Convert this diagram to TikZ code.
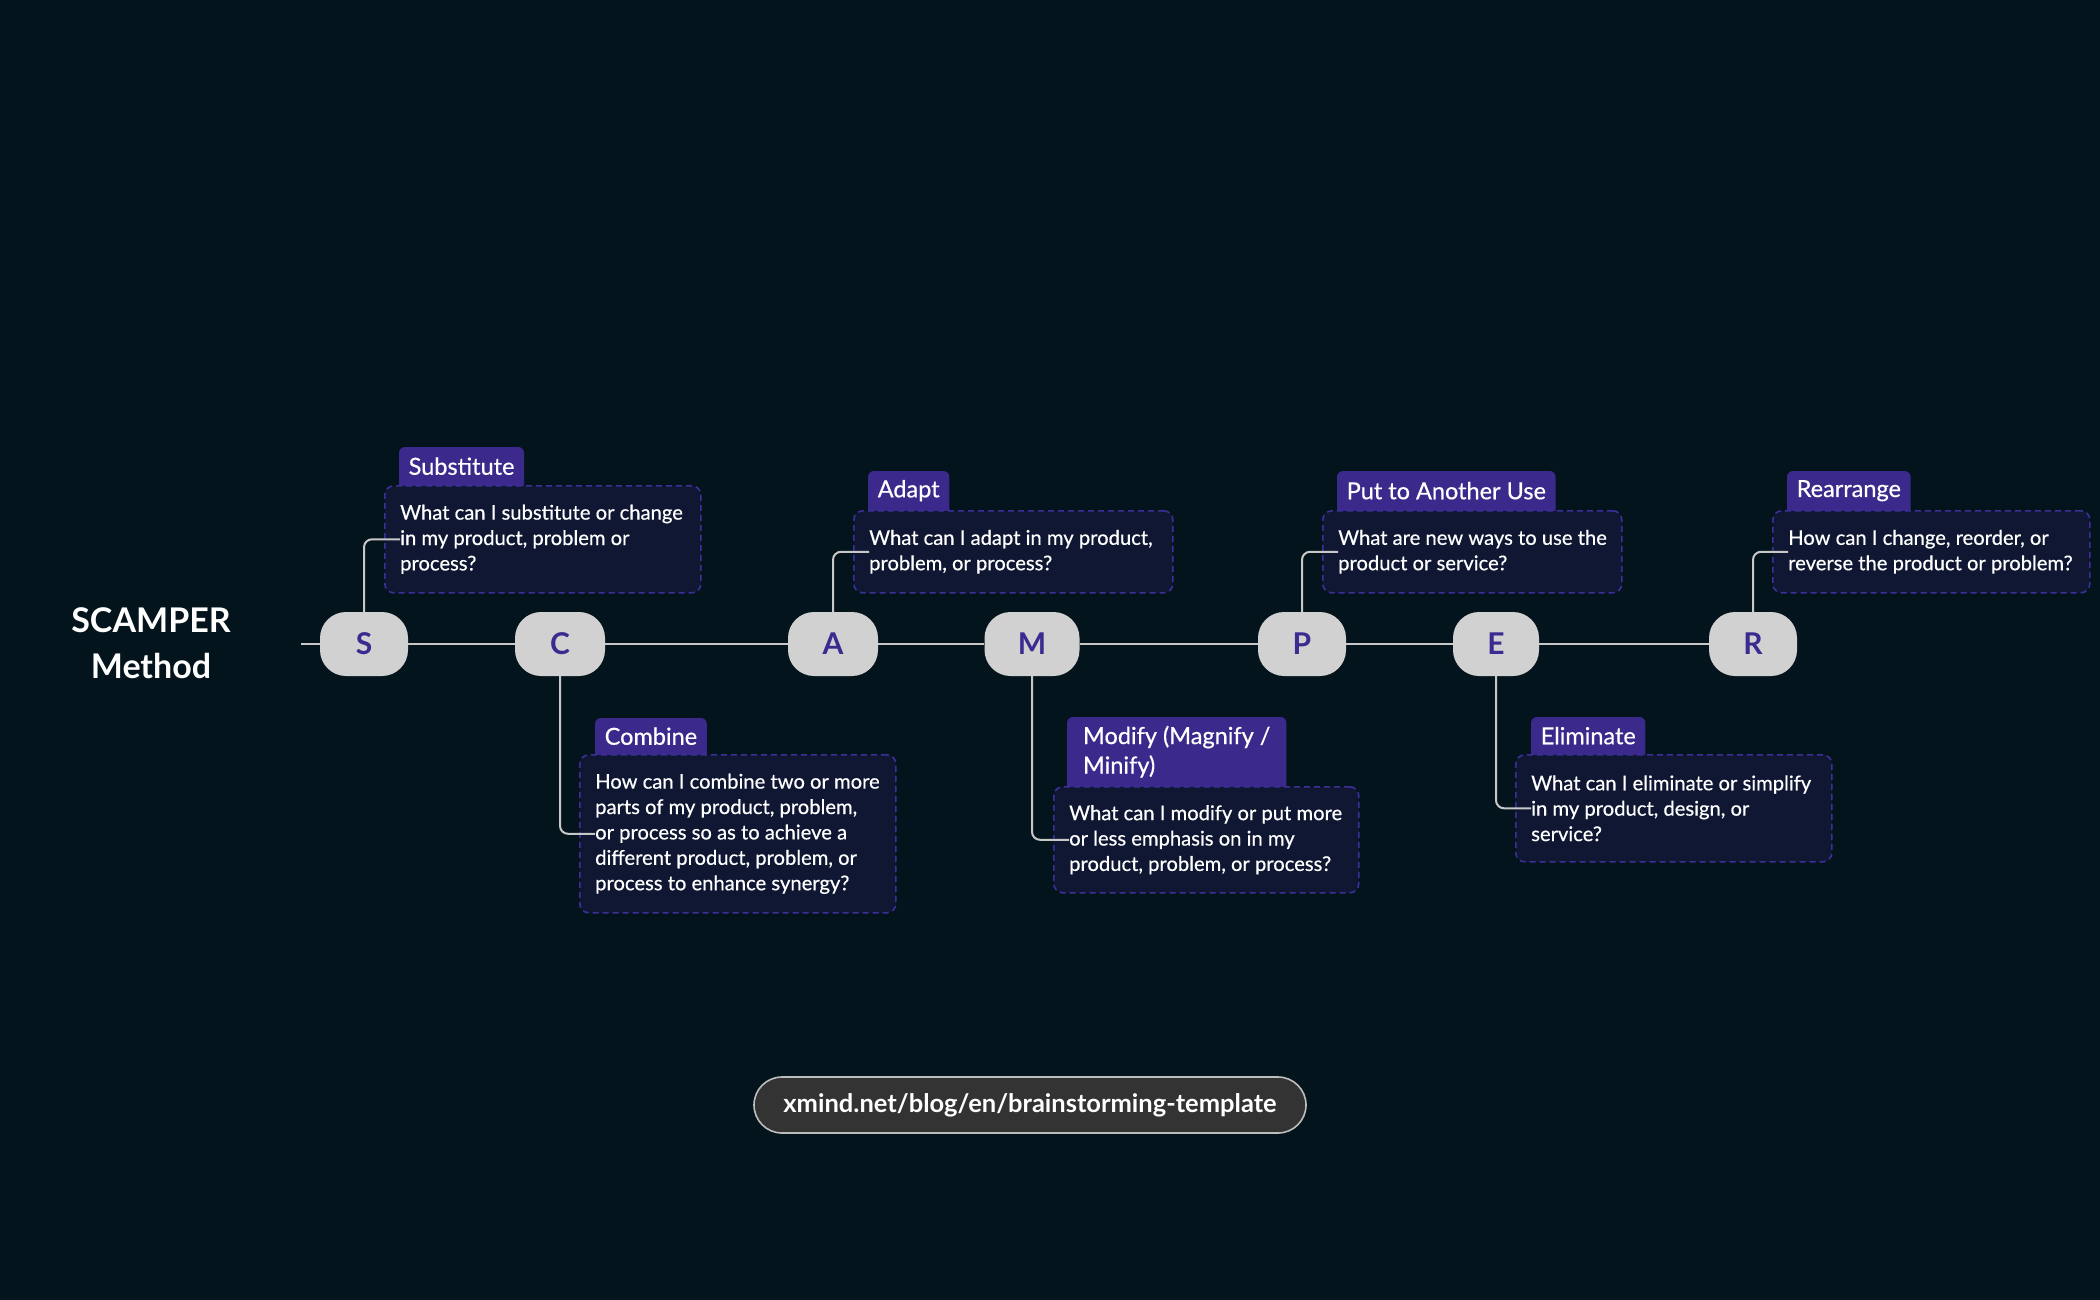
\documentclass[tikz,border=0pt]{standalone}
\usepackage{fontspec}
\setmainfont{Lato}
\newfontfamily\medfont{Lato}[FakeBold=0.5]
\definecolor{bgc}{HTML}{04141C}
\definecolor{pillc}{HTML}{D1D1D1}
\definecolor{letc}{HTML}{3B2A8F}
\definecolor{tabc}{HTML}{3B2A8C}
\definecolor{boxc}{HTML}{101733}
\definecolor{dashc}{HTML}{3D2F99}
\definecolor{linec}{HTML}{C8C8C8}
\definecolor{linkc}{HTML}{333333}
\definecolor{linkb}{HTML}{BDBDBD}
\pgfdeclarelayer{bglayer}
\pgfdeclarelayer{under}
\pgfsetlayers{bglayer,under,main}
\begin{document}
\begin{tikzpicture}[x=1pt,y=-1pt,
  pill/.style={fill=pillc, rounded corners=26pt, minimum width=88pt, minimum height=64pt, inner sep=0pt, text=letc, font=\fontsize{30}{31}\selectfont\bfseries},
  qbox/.style={draw=dashc, dash pattern=on 6pt off 4pt, line width=1.6pt, fill=boxc, rounded corners=9pt, anchor=north west, inner sep=0pt},
  qtext/.style={anchor=west, inner sep=0pt, align=left, text=white, font=\medfont\fontsize{20.2}{25.4}\selectfont},
  tabt/.style={anchor=north west, inner xsep=9.5pt, inner ysep=0pt, align=left, text=white, font=\medfont\fontsize{23.5}{29.5}\selectfont},
  tabfill/.style={fill=tabc, rounded corners=6pt},
  conn/.style={draw=linec, line width=2pt},
  ]
\begin{pgfonlayer}{bglayer}
\fill[bgc] (0,0) rectangle (2100,1300);
\end{pgfonlayer}

% title
\node[align=center, text=white, font=\fontsize{34}{46}\selectfont\bfseries] (title) at (151,643) {SCAMPER\\Method};

% pills
\coordinate (start) at (301,644);
\node[pill] (S) at (364,644) {S};
\node[pill, minimum width=90pt] (C) at (560,644) {C};
\node[pill, minimum width=90pt] (A) at (833,644) {A};
\node[pill, minimum width=95pt] (M) at (1032,644) {M};
\node[pill] (P) at (1302,644) {P};
\node[pill, minimum width=86pt] (E) at (1496,644) {E};
\node[pill] (R) at (1753,644) {R};
\draw[conn] (start) -- (S.west) (S.east) -- (C.west) (C.east) -- (A.west) (A.east) -- (M.west)
  (M.east) -- (P.west) (P.east) -- (E.west) (E.east) -- (R.west);

% Substitute
\node[tabt, minimum height=38pt] (stab) at (399,447) {Substitute};
\node[qbox, minimum width=316pt, minimum height=107pt] (sbox) at (384,485) {};
\node[qtext] (stext) at ([xshift=16pt]sbox.west) {What can I substitute or change\\in my product, problem or\\process?};
% Combine
\node[tabt, minimum height=36pt] (ctab) at (595,718) {Combine};
\node[qbox, minimum width=316pt, minimum height=158pt] (cbox) at (579,754) {};
\node[qtext] (ctext) at ([xshift=16pt]cbox.west) {How can I combine two or more\\parts of my product, problem,\\or process so as to achieve a\\different product, problem, or\\process to enhance synergy?};
% Adapt
\node[tabt, minimum height=39pt] (atab) at (868,471) {Adapt};
\node[qbox, minimum width=319pt, minimum height=82pt] (abox) at (853,510) {};
\node[qtext] (atext) at ([xshift=16pt]abox.west) {What can I adapt in my product,\\problem, or process?};
% Modify
\node[tabt, minimum height=69pt, minimum width=219pt] (mtab) at (1067,717) {Modify (Magnify /\\Minify)};
\node[qbox, minimum width=305pt, minimum height=106pt] (mbox) at (1053,786) {};
\node[qtext] (mtext) at ([xshift=16pt]mbox.west) {What can I modify or put more\\or less emphasis on in my\\product, problem, or process?};
% Put to Another Use
\node[tabt, minimum height=39pt] (ptab) at (1337,471) {Put to Another Use};
\node[qbox, minimum width=299pt, minimum height=82pt] (pbox) at (1322,510) {};
\node[qtext] (ptext) at ([xshift=16pt]pbox.west) {What are new ways to use the\\product or service?};
% Eliminate
\node[tabt, minimum height=37pt] (etab) at (1531,717) {Eliminate};
\node[qbox, minimum width=316pt, minimum height=107pt] (ebox) at (1515,754) {};
\node[qtext] (etext) at ([xshift=16pt]ebox.west) {What can I eliminate or simplify\\in my product, design, or\\service?};
% Rearrange
\node[tabt, minimum height=39pt] (rtab) at (1787,471) {Rearrange};
\node[qbox, minimum width=317pt, minimum height=82pt] (rbox) at (1772,510) {};
\node[qtext] (rtext) at ([xshift=16pt]rbox.west) {How can I change, reorder, or\\reverse the product or problem?};

\begin{pgfonlayer}{under}
\foreach \t in {stab,ctab,atab,mtab,ptab,etab,rtab}{
  \fill[tabfill] (\t.north west) rectangle ([yshift=-10pt]\t.south east);
}
\end{pgfonlayer}

% connectors
\draw[conn, rounded corners=8pt] (S.north) |- ([xshift=16pt]sbox.west);
\draw[conn, rounded corners=8pt] (C.south) |- ([xshift=16pt]cbox.west);
\draw[conn, rounded corners=8pt] (A.north) |- ([xshift=16pt]abox.west);
\draw[conn, rounded corners=8pt] (M.south) |- ([xshift=16pt]mbox.west);
\draw[conn, rounded corners=8pt] (P.north) |- ([xshift=16pt]pbox.west);
\draw[conn, rounded corners=8pt] (E.south) |- ([xshift=16pt]ebox.west);
\draw[conn, rounded corners=8pt] (R.north) |- ([xshift=16pt]rbox.west);

% link
\node[fill=linkc, draw=linkb, line width=1.6pt, rounded corners=28pt, minimum width=552pt, minimum height=56pt, text=white, font=\fontsize{25.5}{28}\selectfont\bfseries] (link) at (1030,1105) {xmind.net/blog/en/brainstorming-template};
\end{tikzpicture}
\end{document}
